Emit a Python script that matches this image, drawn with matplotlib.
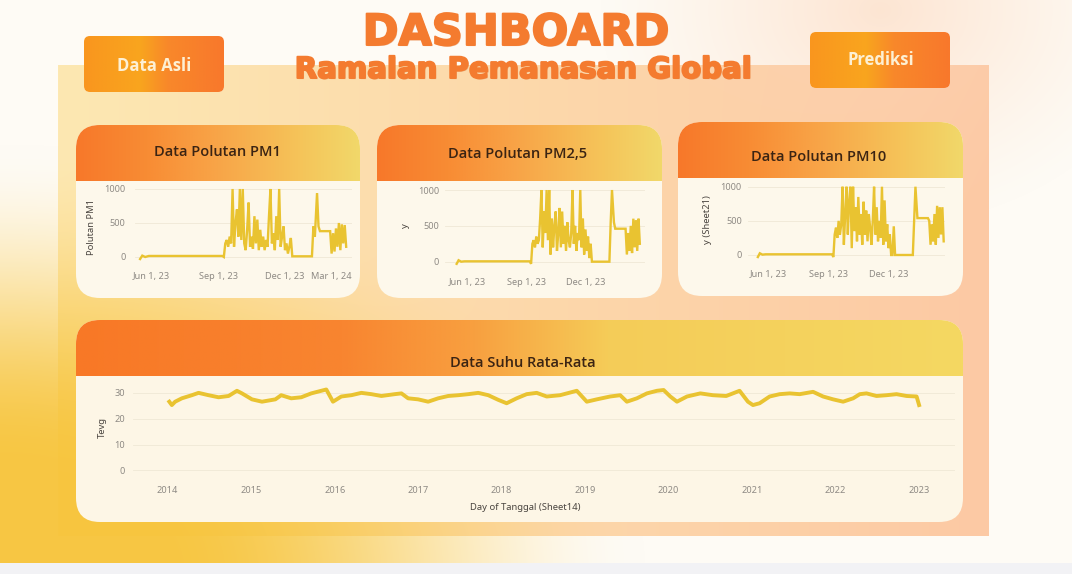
import numpy as np
import pandas as pd
import matplotlib
matplotlib.use('Agg')
import matplotlib.pyplot as plt
from matplotlib.patches import FancyBboxPatch
import matplotlib.patheffects as pe

# ---------------- DATA ----------------
head_dates = ['2023-05-16', '2023-05-19', '2023-05-23', '2023-05-28', '2023-09-06']
pm1_head = [-30, 20, 0, 15, 15]
pm25_head = [-30, 20, 0, 5, 5]
pm10_head = [-30, 25, 5, 10, 10]

spike_start = '2023-09-08'
pm1_spike = [0, 200, 250, 150, 300, 200, 1000, 150, 500, 700, 300, 1000, 250, 1000, 200, 100,
             400, 800, 150, 300, 120, 600, 200, 550, 100, 400, 150, 300, 100, 250, 150, 600,
             1000, 200, 350, 100, 600, 250, 1000, 150, 300, 450, 100, 200, 50, 150, 280, 10]
pm25_spike = [-30, 250, 300, 200, 350, 250, 300, 600, 1000, 200, 700, 400, 1000, 300, 1000, 100,
              600, 200, 500, 700, 150, 400, 750, 200, 700, 250, 500, 150, 550, 300, 200, 400,
              1000, 250, 500, 150, 400, 300, 1000, 200, 600, 100, 450, 150, 350, 50, 250, 0]
pm10_spike = [-30, 300, 400, 250, 500, 300, 450, 1000, 150, 600, 1000, 300, 800, 1000, 100, 1000,
              350, 700, 200, 850, 300, 600, 150, 780, 300, 650, 200, 600, 400, 150, 500, 1000,
              300, 700, 200, 500, 250, 1000, 150, 800, 200, 450, 100, 300, 0, 0, 420, 0]

tail_dates = ['2023-12-14', '2024-01-07', '2024-01-09', '2024-01-11', '2024-01-14', '2024-01-16',
              '2024-01-18', '2024-01-30', '2024-02-01', '2024-02-03', '2024-02-05', '2024-02-07',
              '2024-02-09', '2024-02-11', '2024-02-13', '2024-02-15', '2024-02-17', '2024-02-19',
              '2024-02-21', '2024-02-23']
pm1_tail = [10, 10, 450, 300, 940, 450, 380, 380, 380, 50, 350, 80, 420, 150, 500, 100, 480, 200, 470, 150]
pm25_tail = [0, 0, 550, 1000, 550, 460, 460, 460, 460, 100, 400, 150, 500, 120, 600, 200, 580, 150, 600, 250]
pm10_tail = [0, 0, 500, 1000, 540, 540, 540, 540, 500, 150, 450, 200, 600, 150, 720, 250, 700, 300, 700, 200]

pm_ticks_1 = ['2023-06-01', '2023-09-01', '2023-12-01', '2024-03-01']
pm_ticks_1_labels = ['Jun 1, 23', 'Sep 1, 23', 'Dec 1, 23', 'Mar 1, 24']
pm_ticks_2 = ['2023-06-01', '2023-09-01', '2023-12-01']
pm_ticks_2_labels = ['Jun 1, 23', 'Sep 1, 23', 'Dec 1, 23']
pm_yticks = [0, 500, 1000]

temp_year = [2014.02, 2014.05, 2014.09, 2014.17, 2014.29, 2014.37, 2014.49, 2014.61, 2014.73, 2014.83,
             2014.89, 2015.01, 2015.13, 2015.29, 2015.36, 2015.48, 2015.60, 2015.72, 2015.84, 2015.90,
             2015.98, 2016.08, 2016.20, 2016.32, 2016.44, 2016.56, 2016.72, 2016.80, 2016.88, 2017.00,
             2017.12, 2017.24, 2017.36, 2017.48, 2017.60, 2017.72, 2017.84, 2017.96, 2018.06, 2018.18,
             2018.30, 2018.42, 2018.54, 2018.70, 2018.90, 2019.02, 2019.14, 2019.30, 2019.42, 2019.50,
             2019.62, 2019.74, 2019.86, 2019.94, 2020.02, 2020.10, 2020.22, 2020.38, 2020.53, 2020.69,
             2020.85, 2020.95, 2021.01, 2021.09, 2021.21, 2021.33, 2021.45, 2021.57, 2021.73, 2021.85,
             2021.97, 2022.09, 2022.21, 2022.29, 2022.37, 2022.49, 2022.61, 2022.73, 2022.85, 2022.97,
             2023.00]
temp_avg = [26.5, 25.2, 26.5, 27.8, 29.0, 29.9, 29.0, 28.2, 28.7, 30.7,
            29.7, 27.4, 26.5, 27.4, 29.0, 27.8, 28.2, 29.7, 30.7, 31.2,
            26.5, 28.5, 29.0, 29.9, 29.4, 28.7, 29.4, 29.7, 27.8, 27.4,
            26.5, 27.8, 28.7, 29.0, 29.4, 29.9, 29.0, 27.2, 25.9, 27.8,
            29.4, 29.9, 28.5, 29.0, 30.7, 26.5, 27.4, 28.5, 29.0, 26.5,
            27.8, 29.7, 30.7, 31.0, 28.5, 26.5, 28.5, 29.7, 29.0, 28.7,
            30.7, 26.5, 25.2, 25.9, 28.5, 29.4, 29.7, 29.4, 30.3, 28.5,
            27.4, 26.5, 27.8, 29.4, 29.7, 28.7, 29.0, 29.4, 28.7, 28.5,
            25.2]
temp_xticks = [2014, 2015, 2016, 2017, 2018, 2019, 2020, 2021, 2022, 2023]
temp_yticks = [0, 10, 20, 30]

# ---------------- FIGURE ----------------
W, H = 1072, 574
fig = plt.figure(figsize=(W / 100, H / 100), dpi=100)
FONT = 'Noto Sans'
BOLD = 'Open Sans'
LINE = '#e9c331'
TICK_C = '#8e8a84'
LAB_C = '#4a4540'


def rgb(h):
    return np.array([int(h[i:i + 2], 16) for i in (1, 3, 5)]) / 255.0


def smooth(e0, e1, v):
    s = np.clip((v - e0) / (e1 - e0), 0, 1)
    return s * s * (3 - 2 * s)


# background picture
yy, xx = np.mgrid[0:H, 0:W].astype(float)
img = np.ones((H, W, 3)) * rgb('#fefbf5')
pm = (xx >= 58) & (xx <= 988) & (yy >= 65) & (yy <= 535)
t = np.clip((xx - 58) / 930, 0, 1)[..., None]
panel = rgb('#fde8b2') * (1 - t) + rgb('#fcc9a4') * t
img[pm] = panel[pm]
d = np.hypot(xx - 880, (yy - 10) * 1.3)
a = (np.clip(1 - d / 280, 0, 1) ** 1.2 * 0.55)[..., None]
img = img * (1 - a) + rgb('#fcd3b6') * a
d = np.hypot(xx / 1.5, yy - 574)
a = ((1 - smooth(110, 430, d)) * 0.95)[..., None]
img = img * (1 - a) + rgb('#f7c43a') * a
img[563:] = rgb('#f2f2f5')

ax_bg = fig.add_axes([0, 0, 1, 1])
ax_bg.imshow(img, extent=(0, W, H, 0), aspect='auto', zorder=0, interpolation='bilinear')
ax_bg.axis('off')


def gradient(stops, n=256):
    pos = np.array([s[0] for s in stops])
    cols = np.array([rgb(s[1]) for s in stops])
    x = np.linspace(0, 1, n)
    g = np.stack([np.interp(x, pos, cols[:, k]) for k in range(3)], axis=-1)
    return g[None, :, :]


PM_HEAD = [(0, '#f7782a'), (0.25, '#f88c34'), (0.5, '#f8a548'), (0.8, '#f5c55a'), (1, '#f1d86a')]
T_HEAD = [(0, '#f87826'), (0.3, '#f88530'), (0.45, '#f8a040'), (0.6, '#f5cc58'), (1, '#f4d862')]
BTN = [(0, '#f9961f'), (0.4, '#f9a51e'), (0.6, '#f8882a'), (1, '#f8782c')]


def card(x0, y0, x1, y1, hb, stops, body='#fdf8eb', r=24):
    p = FancyBboxPatch((x0, y0), x1 - x0, y1 - y0, boxstyle=f"round,pad=0,rounding_size={r}",
                       fc=body, ec='none', zorder=2)
    ax_bg.add_patch(p)
    im = ax_bg.imshow(gradient(stops), extent=(x0, x1, hb, y0), aspect='auto', zorder=3,
                      interpolation='bilinear')
    im.set_clip_path(p)


card(76, 125, 360, 298, 181, PM_HEAD)
card(377, 125, 662, 298, 181, PM_HEAD)
card(678, 122, 963, 296, 178, PM_HEAD)
card(76, 320, 963, 522, 376, T_HEAD, body='#fdf6e6')
card(84, 36, 224, 92, 92, BTN, r=6)
card(810, 32, 950, 88, 88, BTN, r=6)
ax_bg.set_xlim(0, W)
ax_bg.set_ylim(H, 0)

# texts on the background
ax_bg.text(154, 66, 'Data Asli', ha='center', va='center', fontsize=12, fontweight='bold',
           color='#fdf0d4', family=BOLD, zorder=5)
ax_bg.text(881, 60, 'Prediksi', ha='center', va='center', fontsize=12, fontweight='bold',
           color='#fdf0d4', family=BOLD, zorder=5)
shadow = [pe.SimplePatchShadow(offset=(0.8, -0.8), shadow_rgbFace='#c8601e', alpha=0.35),
          pe.Stroke(linewidth=1.4, foreground='#f47b2f'), pe.Normal()]
ax_bg.text(516, 33, 'DASHBOARD', ha='center', va='center', fontsize=31, fontweight='heavy',
           color='#f47b2f', family='DejaVu Sans', zorder=5, path_effects=shadow)
ax_bg.text(523, 70, 'Ramalan Pemanasan Global', ha='center', va='center', fontsize=21,
           fontweight='heavy', color='#f47b2f', family='DejaVu Sans', zorder=5, path_effects=shadow)

TITLE_C = '#3b2413'
for (x, y, s) in [(217, 152, 'Data Polutan PM1'), (518, 154, 'Data Polutan PM2,5'),
                  (819, 157, 'Data Polutan PM10'), (523, 363, 'Data Suhu Rata-Rata')]:
    ax_bg.text(x, y, s, ha='center', va='center', fontsize=10.5, fontweight='semibold',
               color=TITLE_C, family=BOLD, zorder=5)


def px_axes(l, t_, r, b):
    return fig.add_axes([l / W, 1 - b / H, (r - l) / W, (b - t_) / H], facecolor='none')


def style(ax, xpad, ypad):
    for s in ax.spines.values():
        s.set_visible(False)
    ax.tick_params(length=0, labelsize=6.6, labelcolor=TICK_C)
    ax.tick_params(axis='x', pad=xpad)
    ax.tick_params(axis='y', pad=ypad)
    for lab in ax.get_xticklabels() + ax.get_yticklabels():
        lab.set_family(FONT)
    ax.grid(axis='y', color='#efe8d6', lw=0.6)
    ax.set_axisbelow(True)


def pm_series(head, spike, tail):
    dates = (list(pd.to_datetime(head_dates)) +
             list(pd.date_range(spike_start, periods=len(spike), freq='2D')) +
             list(pd.to_datetime(tail_dates)))
    return dates, head + spike + tail


configs = [
    (135, 183, 352, 268, (-162, 1088), ('2023-05-09', '2024-03-02'), pm1_head, pm1_spike, pm1_tail,
     pm_ticks_1, pm_ticks_1_labels, 3.0, 7.0),
    (445, 186, 645, 270, (-116, 1056), ('2023-04-28', '2024-03-02'), pm25_head, pm25_spike, pm25_tail,
     pm_ticks_2, pm_ticks_2_labels, 5.5, 4.3),
    (748, 182, 945, 264, (-132, 1069), ('2023-05-01', '2024-02-25'), pm10_head, pm10_spike, pm10_tail,
     pm_ticks_2, pm_ticks_2_labels, 4.0, 4.5),
]
for (l, t_, r, b, ylim, xlim, hd, sp, tl, tks, tkl, xpad, ypad) in configs:
    ax = px_axes(l, t_, r, b)
    dts, vals = pm_series(hd, sp, tl)
    ax.plot(dts, vals, color=LINE, lw=1.7, solid_joinstyle='miter')
    ax.set_xlim(pd.to_datetime(xlim[0]), pd.to_datetime(xlim[1]))
    ax.set_ylim(*ylim)
    ax.set_yticks(pm_yticks)
    ax.set_xticks(pd.to_datetime(tks))
    ax.set_xticklabels(tkl)
    style(ax, xpad, ypad)
    if len(tkl) == 4:
        ax.get_xticklabels()[-1].set_ha('right')

# temperature chart
axT = px_axes(133, 383, 955, 478)
axT.plot(temp_year, temp_avg, color=LINE, lw=2.8)
axT.set_xlim(2013.585, 2023.43)
axT.set_ylim(-2.9, 33.7)
axT.set_xticks(temp_xticks)
axT.set_yticks(temp_yticks)
style(axT, 5.5, 5.8)

# axis titles
for (x, y, s) in [(92, 227, 'Polutan PM1'), (405, 226, 'y'), (708, 220, 'y (Sheet21)'), (102, 428, 'Tevg')]:
    ax_bg.text(x, y, s, ha='center', va='center', rotation=90, fontsize=6.8, color=LAB_C,
               family=FONT, zorder=5)
ax_bg.text(525, 508, 'Day of Tanggal (Sheet14)', ha='center', va='center', fontsize=6.8,
           color=LAB_C, family=FONT, zorder=5)

fig.savefig('out.png', dpi=100)
